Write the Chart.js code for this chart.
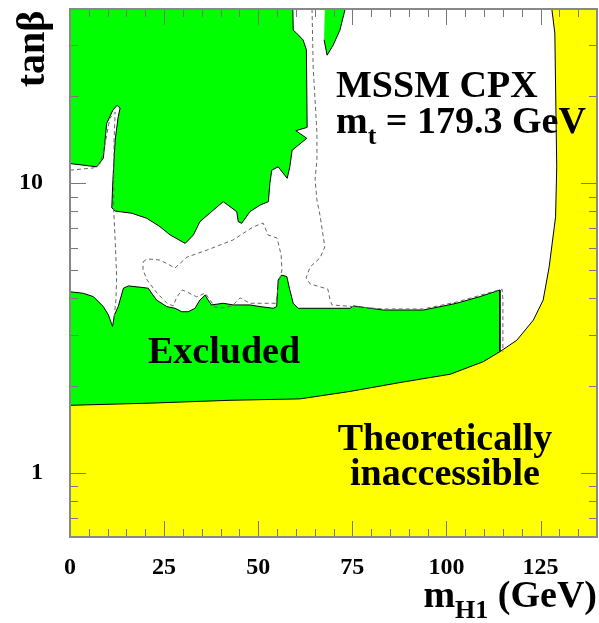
<!DOCTYPE html>
<html>
<head>
<meta charset="utf-8">
<script src="https://cdn.jsdelivr.net/npm/chart.js@4.4.1/dist/chart.umd.min.js"></script>
<style>
  html, body { margin: 0; padding: 0; background: #fff; }
  canvas { display: block; }
</style>
</head>
<body>
<canvas id="myChart" width="599" height="623"></canvas>
<script>
// axis range and labelled ticks
const xMin = 0, xMax = 140;
const yMin = 0.6, yMax = 40;
const xTicks = [0, 25, 50, 75, 100, 125];
const yTicks = [1, 10];

// excluded region, large upper-left part (m_H1, tanb)
const exclTopX = [0, 59.2, 59.3, 60.2, 61.9, 62.8, 63.0, 60.0, 62.9, 59.0, 58.4, 57.7, 55.3, 53.6, 53.1, 52.7, 50.5, 47.8, 45.6, 44.7, 44.3, 40.7, 34.5, 32.8, 30.6, 26.6, 23.9, 20.4, 16.4, 12.0, 11.1, 11.4, 12.0, 12.75, 13.3, 12.5, 11.4, 9.75, 8.85, 7.1, 0];
const exclTopY = [40, 40, 33.8, 33.0, 31.3, 28.9, 15.6, 15.2, 14.3, 13.0, 11.4, 10.4, 11.4, 11.1, 10.0, 8.64, 8.41, 7.98, 7.27, 7.37, 7.98, 8.64, 7.37, 6.63, 6.20, 6.63, 7.08, 7.57, 7.88, 8.02, 8.22, 10.3, 14.1, 16.8, 18.2, 18.6, 17.9, 16.1, 12.2, 11.4, 11.7];

// small excluded sliver at the top
const exclSliverX = [67.7, 73.1, 71.7, 69.9, 68.3, 67.5];
const exclSliverY = [40, 40, 33.8, 30.0, 27.7, 31.3];

// excluded band at low tanb
const exclLowX = [0, 3.5, 6.2, 8.85, 10.2, 11.3, 11.8, 12.8, 14.2, 15.5, 19.0, 20.8, 21.7, 23.0, 25.7, 27.9, 29.7, 31.4, 33.2, 34.5, 35.9, 36.7, 37.6, 40.7, 43.4, 47.8, 50.5, 54.0, 54.9, 55.3, 56.2, 57.6, 58.4, 59.3, 60.6, 74.4, 75.3, 83.2, 93.9, 102.7, 108.9, 114.2, 114.2, 0];
const exclLowY = [4.22, 4.17, 4.06, 3.75, 3.51, 3.20, 3.51, 3.75, 4.34, 4.42, 4.37, 4.34, 4.17, 3.95, 3.75, 3.70, 3.60, 3.60, 3.70, 3.95, 4.11, 3.95, 3.80, 3.85, 3.80, 3.80, 3.75, 3.70, 3.75, 4.63, 4.82, 4.76, 4.28, 3.85, 3.70, 3.70, 3.77, 3.65, 3.65, 3.85, 4.06, 4.28, 0.6, 0.6];

// theoretically inaccessible region
const theoryX = [0, 21.3, 42.5, 61.1, 74.4, 87.7, 101.0, 109.8, 114.2, 118.7, 123.1, 125.7, 127.3, 129.0, 129.3, 128.8, 128.0, 140, 140, 0];
const theoryY = [1.71, 1.74, 1.78, 1.80, 1.91, 2.05, 2.19, 2.42, 2.62, 2.87, 3.37, 3.95, 5.15, 7.66, 11.4, 33.0, 40, 40, 0.6, 0.6];

// expected limits (dashed)
const expAX = [0, 6.2, 8.0, 8.85, 9.75, 10.6, 12.0, 11.7, 11.6, 12.0, 12.4, 12.2, 11.7];
const expAY = [11.1, 11.3, 11.7, 12.7, 14.7, 16.8, 17.6, 14.1, 8.08, 6.37, 4.75, 3.95, 3.42];
const expBX = [19.4, 20.5, 23.9, 27.9, 31.1, 36.4, 43.3, 48.6, 51.3, 52.6, 55.0, 56.1, 56.3, 55.3, 55.0, 54.7, 51.0, 47.8, 45.2, 43.0, 40.4, 38.5, 37.2, 35.9, 33.7, 31.1, 29.8, 28.4, 27.4, 25.8, 23.1, 20.5, 19.4, 19.4];
const expBY = [5.35, 5.48, 5.43, 5.10, 5.56, 5.88, 6.37, 7.06, 7.29, 6.63, 6.47, 5.65, 5.02, 4.45, 4.11, 3.85, 3.85, 3.85, 4.02, 3.77, 3.71, 3.74, 3.95, 4.18, 4.05, 4.21, 4.28, 4.05, 3.77, 3.85, 4.18, 4.63, 5.02, 5.35];
const expCX = [64.3, 64.6, 65.6, 65.6, 65.1, 65.6, 66.4, 67.7, 66.4, 63.8, 62.7, 63.8, 68.5, 69.1, 69.6, 73.1, 83.2, 93.8, 102.8, 108.9, 114.8, 115.0, 115.0];
const expCY = [40, 25.2, 14.9, 12.0, 10.3, 8.75, 7.77, 6.03, 5.52, 5.14, 4.71, 4.49, 4.31, 3.95, 3.80, 3.77, 3.68, 3.68, 3.89, 4.10, 4.31, 3.95, 2.61];

const serif = "'Liberation Serif', 'Times New Roman', serif";
const green = '#00ff00';
const yellow = '#ffff00';

function pts(xs, ys) {
    return xs.map((x, i) => ({x: x, y: ys[i]}));
}

function region(xs, ys, color, order) {
    return {
        data: pts(xs, ys),
        showLine: true,
        fill: 'shape',
        backgroundColor: color,
        borderColor: '#000',
        borderWidth: 1,
        pointRadius: 0,
        order: order
    };
}

function dashed(xs, ys) {
    return {
        data: pts(xs, ys),
        showLine: true,
        fill: false,
        borderColor: '#666',
        borderWidth: 1,
        borderDash: [4, 3],
        pointRadius: 0,
        order: 1
    };
}

const frameTicks = {
    id: 'frameTicks',
    afterDatasetsDraw(chart) {
        const {ctx, chartArea: a, scales: {x, y}} = chart;
        ctx.save();
        ctx.strokeStyle = '#777';
        ctx.lineWidth = 1;
        ctx.beginPath();
        for (let v = xMin; v <= xMax; v += 5) {
            const px = Math.round(x.getPixelForValue(v)) + 0.5;
            const len = v % 25 === 0 ? 16 : 8;
            ctx.moveTo(px, a.bottom); ctx.lineTo(px, a.bottom - len);
            ctx.moveTo(px, a.top); ctx.lineTo(px, a.top + len);
        }
        for (let dec = 0.1; dec <= 10; dec *= 10) {
            for (let m = 1; m <= 9; m++) {
                const v = m * dec;
                if (v < yMin - 1e-9 || v > yMax + 1e-9) continue;
                const py = Math.round(y.getPixelForValue(v)) + 0.5;
                const len = m === 1 ? 16 : 8;
                ctx.moveTo(a.left, py); ctx.lineTo(a.left + len, py);
                ctx.moveTo(a.right, py); ctx.lineTo(a.right - len, py);
            }
        }
        ctx.stroke();
        ctx.lineWidth = 2;
        ctx.strokeStyle = '#888';
        ctx.strokeRect(a.left, a.top, a.right - a.left, a.bottom - a.top);
        ctx.restore();
    }
};

const labels = {
    id: 'labels',
    afterDraw(chart) {
        const ctx = chart.ctx;
        const big = 'bold 38px ' + serif;
        const sub = 'bold 26px ' + serif;
        ctx.save();
        ctx.fillStyle = '#000';
        ctx.textBaseline = 'alphabetic';

        ctx.font = big;
        ctx.fillText('MSSM CPX', 336, 97);
        let xp = 336;
        ctx.fillText('m', xp, 133);
        xp += ctx.measureText('m').width;
        ctx.font = sub;
        ctx.fillText('t', xp, 144);
        xp += ctx.measureText('t').width;
        ctx.font = big;
        ctx.fillText(' = 179.3 GeV', xp, 133);

        ctx.fillText('Excluded', 148, 363);
        ctx.textAlign = 'center';
        ctx.fillText('Theoretically', 445, 450);
        ctx.fillText('inaccessible', 445, 485);
        ctx.textAlign = 'left';

        // x axis title, right aligned to the frame
        ctx.font = big;
        const wm = ctx.measureText('m').width;
        const wg = ctx.measureText(' (GeV)').width;
        ctx.font = sub;
        const wh = ctx.measureText('H1').width;
        let tx = chart.chartArea.right - (wm + wh + wg);
        ctx.font = big;
        ctx.fillText('m', tx, 607);
        tx += wm;
        ctx.font = sub;
        ctx.fillText('H1', tx, 618);
        tx += wh;
        ctx.font = big;
        ctx.fillText(' (GeV)', tx, 607);

        // y axis title
        ctx.translate(44, 49);
        ctx.rotate(-Math.PI / 2);
        ctx.textAlign = 'center';
        ctx.font = 'bold 40px ' + serif;
        ctx.fillText('tanβ', 0, 0);
        ctx.restore();
    }
};

const ctx = document.getElementById('myChart');

new Chart(ctx, {
    type: 'scatter',
    data: {
        datasets: [
            region(exclTopX, exclTopY, green, 3),
            region(exclSliverX, exclSliverY, green, 3),
            region(exclLowX, exclLowY, green, 3),
            region(theoryX, theoryY, yellow, 2),
            dashed(expAX, expAY),
            dashed(expBX, expBY),
            dashed(expCX, expCY)
        ]
    },
    options: {
        responsive: false,
        animation: false,
        devicePixelRatio: 1,
        layout: { padding: { top: 9, right: 2, left: 0, bottom: 0 } },
        plugins: {
            legend: { display: false },
            tooltip: { enabled: false }
        },
        scales: {
            x: {
                type: 'linear',
                min: xMin,
                max: xMax,
                grid: { display: false, drawTicks: false },
                border: { display: false },
                ticks: {
                    color: '#000',
                    font: { family: serif, size: 24, weight: 'bold' },
                    padding: 16,
                    maxRotation: 0
                },
                afterBuildTicks: s => { s.ticks = xTicks.map(v => ({value: v})); },
                afterFit: s => { s.height = 86; s.paddingLeft = 0; s.paddingRight = 0; }
            },
            y: {
                type: 'logarithmic',
                min: yMin,
                max: yMax,
                grid: { display: false, drawTicks: false },
                border: { display: false },
                ticks: {
                    color: '#000',
                    font: { family: serif, size: 24, weight: 'bold' },
                    padding: 27,
                    callback: v => String(v)
                },
                afterBuildTicks: s => { s.ticks = yTicks.map(v => ({value: v})); },
                afterFit: s => { s.width = 70; s.paddingTop = 0; s.paddingBottom = 0; }
            }
        }
    },
    plugins: [frameTicks, labels]
});
</script>
</body>
</html>
